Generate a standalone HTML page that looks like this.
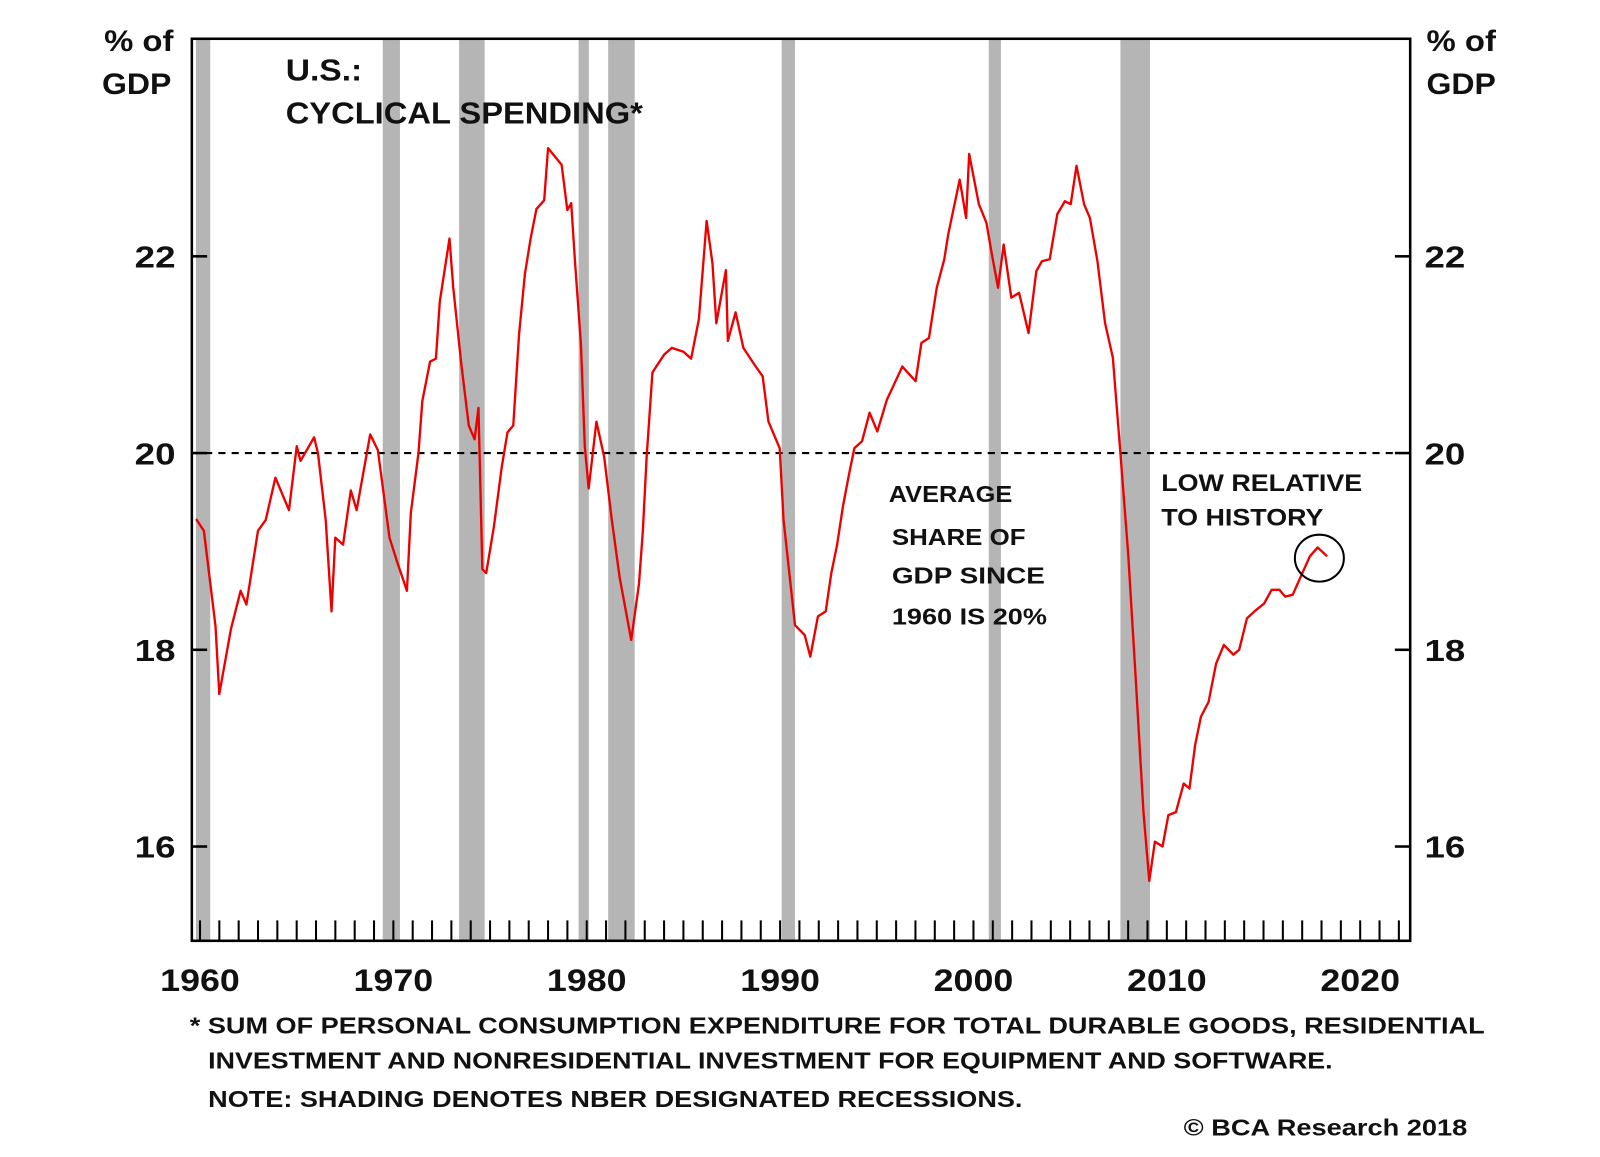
<!DOCTYPE html>
<html><head><meta charset="utf-8"><style>
html,body{margin:0;padding:0;background:#fff;}
svg text{font-family:"Liberation Sans",Arial,sans-serif;font-weight:bold;fill:#111;}
</style></head><body>
<svg width="1600" height="1152" viewBox="0 0 1600 1152">
<g transform="scale(1.0204)">
<g id="rec"></g>
<line x1="188" y1="444" x2="1382" y2="444" stroke="#000" stroke-width="2" stroke-dasharray="7,6"/>
<path id="series" fill="none" stroke="#ee0000" stroke-width="2.3" stroke-linejoin="round"/>
<g id="axes"></g>
<rect x="188" y="38" width="1194" height="884" fill="none" stroke="#000" stroke-width="2.5"/>
<ellipse cx="1293" cy="547" rx="24" ry="23" fill="none" stroke="#000" stroke-width="2"/>
<text x="102" y="50" font-size="29" textLength="68" lengthAdjust="spacingAndGlyphs">% of</text>
<text x="100" y="92" font-size="29" textLength="68" lengthAdjust="spacingAndGlyphs">GDP</text>
<text x="1398" y="50" font-size="29" textLength="68" lengthAdjust="spacingAndGlyphs">% of</text>
<text x="1398" y="92" font-size="29" textLength="68" lengthAdjust="spacingAndGlyphs">GDP</text>
<text x="280" y="79" font-size="30" textLength="75" lengthAdjust="spacingAndGlyphs">U.S.:</text>
<text x="280" y="121" font-size="30" textLength="350" lengthAdjust="spacingAndGlyphs">CYCLICAL SPENDING*</text>
<g font-size="23">
<text x="871" y="492" textLength="121" lengthAdjust="spacingAndGlyphs">AVERAGE</text>
<text x="874" y="534" textLength="131" lengthAdjust="spacingAndGlyphs">SHARE OF</text>
<text x="874" y="572" textLength="150" lengthAdjust="spacingAndGlyphs">GDP SINCE</text>
<text x="874" y="612" textLength="152" lengthAdjust="spacingAndGlyphs">1960 IS 20%</text>
</g>
<g font-size="24">
<text x="1138" y="481" textLength="197" lengthAdjust="spacingAndGlyphs">LOW RELATIVE</text>
<text x="1138" y="515" textLength="159" lengthAdjust="spacingAndGlyphs">TO HISTORY</text>
</g>
<g font-size="23">
<text x="186" y="1013" textLength="1269" lengthAdjust="spacingAndGlyphs">* SUM OF PERSONAL CONSUMPTION EXPENDITURE FOR TOTAL DURABLE GOODS, RESIDENTIAL</text>
<text x="204" y="1047" textLength="1102" lengthAdjust="spacingAndGlyphs">INVESTMENT AND NONRESIDENTIAL INVESTMENT FOR EQUIPMENT AND SOFTWARE.</text>
<text x="204" y="1085" textLength="798" lengthAdjust="spacingAndGlyphs">NOTE: SHADING DENOTES NBER DESIGNATED RECESSIONS.</text>
</g>
<text x="1160" y="1113" font-size="23" textLength="278" lengthAdjust="spacingAndGlyphs">© BCA Research 2018</text>
</g>
</svg>
<script>
const recStart=[1959.79,1969.45,1973.40,1979.58,1981.11,1990.08,2000.79,2007.60];
const recEnd=[1960.53,1970.34,1974.72,1980.11,1982.48,1990.77,2001.42,2009.13];
const years=[1959.8,1960.2,1960.8,1961.0,1961.6,1962.1,1962.4,1963.0,1963.4,1963.9,1964.6,1965.0,1965.2,1965.9,1966.1,1966.5,1966.8,1967.0,1967.4,1967.8,1968.1,1968.8,1969.2,1969.8,1970.2,1970.7,1970.9,1971.3,1971.5,1971.9,1972.2,1972.4,1972.9,1973.1,1973.5,1973.9,1974.2,1974.4,1974.6,1974.8,1975.2,1975.6,1975.9,1976.2,1976.5,1976.8,1977.1,1977.4,1977.8,1978.0,1978.7,1979.0,1979.2,1979.4,1979.7,1979.9,1980.1,1980.5,1980.9,1981.3,1981.7,1982.3,1982.7,1982.9,1983.1,1983.4,1984.0,1984.4,1985.0,1985.4,1985.8,1986.2,1986.5,1986.7,1987.2,1987.3,1987.7,1988.1,1988.7,1989.1,1989.4,1989.98,1990.18,1990.77,1991.27,1991.56,1991.96,1992.36,1992.65,1992.95,1993.25,1993.54,1993.84,1994.24,1994.63,1995.03,1995.52,1996.32,1997.01,1997.31,1997.70,1998.10,1998.49,1998.69,1999.29,1999.62,1999.78,2000.28,2000.67,2000.97,2001.27,2001.56,2001.96,2002.36,2002.85,2003.25,2003.54,2003.94,2004.34,2004.73,2005.03,2005.33,2005.72,2006.02,2006.41,2006.81,2007.21,2007.60,2008.00,2008.39,2008.79,2009.09,2009.38,2009.78,2010.08,2010.47,2010.87,2011.17,2011.46,2011.76,2012.16,2012.55,2012.95,2013.44,2013.74,2014.14,2014.53,2015.03,2015.42,2015.82,2016.12,2016.51,2017.01,2017.40,2017.80,2018.29];
const values=[19.33,19.21,18.24,17.55,18.21,18.60,18.46,19.21,19.32,19.75,19.42,20.07,19.92,20.16,20.00,19.32,18.39,19.14,19.07,19.62,19.42,20.19,20.03,19.14,18.89,18.60,19.39,20.00,20.53,20.93,20.96,21.54,22.18,21.68,20.93,20.28,20.14,20.46,18.82,18.78,19.25,19.85,20.21,20.28,21.21,21.82,22.18,22.48,22.57,23.10,22.93,22.47,22.54,21.93,21.11,20.07,19.64,20.32,19.96,19.32,18.74,18.10,18.67,19.21,19.96,20.82,21.00,21.07,21.03,20.96,21.36,22.36,21.93,21.32,21.86,21.14,21.43,21.07,20.89,20.78,20.32,20.05,19.32,18.25,18.15,17.93,18.34,18.39,18.78,19.07,19.46,19.76,20.05,20.12,20.41,20.22,20.54,20.88,20.73,21.12,21.17,21.68,21.97,22.22,22.78,22.39,23.04,22.53,22.34,22.00,21.68,22.12,21.58,21.63,21.22,21.85,21.95,21.97,22.43,22.56,22.53,22.92,22.53,22.39,21.95,21.32,20.97,20.00,18.98,17.71,16.35,15.65,16.05,16.00,16.32,16.35,16.64,16.59,17.03,17.32,17.47,17.86,18.05,17.95,18.00,18.32,18.39,18.47,18.61,18.61,18.54,18.56,18.78,18.95,19.04,18.95];
const yTicks=[16,18,20,22];
const xLabels=[1960,1970,1980,1990,2000,2010,2020];
const NS='http://www.w3.org/2000/svg';
function X(yr){return 196+(yr-1960)*18.95;}
function Y(v){return 444-(v-20)*96.4;}
function mk(tag,attrs,parent){const e=document.createElementNS(NS,tag);for(const k in attrs)e.setAttribute(k,attrs[k]);parent.appendChild(e);return e;}
const rec=document.getElementById('rec');
recStart.forEach((s,i)=>{
  const r=mk('rect',{x:X(s),y:38,width:X(recEnd[i])-X(s),height:884,fill:'#b5b5b5'},rec);
  
  
});
let d='';
years.forEach((yr,i)=>{d+=(i?'L':'M')+X(Math.max(yr,1959.65)).toFixed(1)+','+Y(values[i]).toFixed(1);});
document.getElementById('series').setAttribute('d',d);
const ax=document.getElementById('axes');
yTicks.forEach(v=>{
  const t1=mk('line',{x1:188,x2:203,y1:Y(v),y2:Y(v),stroke:'#000','stroke-width':2.5},ax);
  
  
  const t2=mk('line',{x1:1367,x2:1382,y1:Y(v),y2:Y(v),stroke:'#000','stroke-width':2.5},ax);
  
  
  const l=mk('text',{x:132,y:Y(v)+11,'font-size':30,textLength:40,lengthAdjust:'spacingAndGlyphs'},ax);l.textContent=v;
  
  
  const r=mk('text',{x:1396,y:Y(v)+11,'font-size':30,textLength:40,lengthAdjust:'spacingAndGlyphs'},ax);r.textContent=v;
  
  
});
for(let yr=1960;yr<=2022;yr++){
  const t=mk('line',{x1:X(yr),x2:X(yr),y1:902,y2:922,stroke:'#000','stroke-width':2},ax);
  
  
}
xLabels.forEach(yr=>{
  const l=mk('text',{x:X(yr)-39,y:971,'font-size':31,textLength:78,lengthAdjust:'spacingAndGlyphs'},ax);l.textContent=yr;
  
  
});
</script>
</body></html>
